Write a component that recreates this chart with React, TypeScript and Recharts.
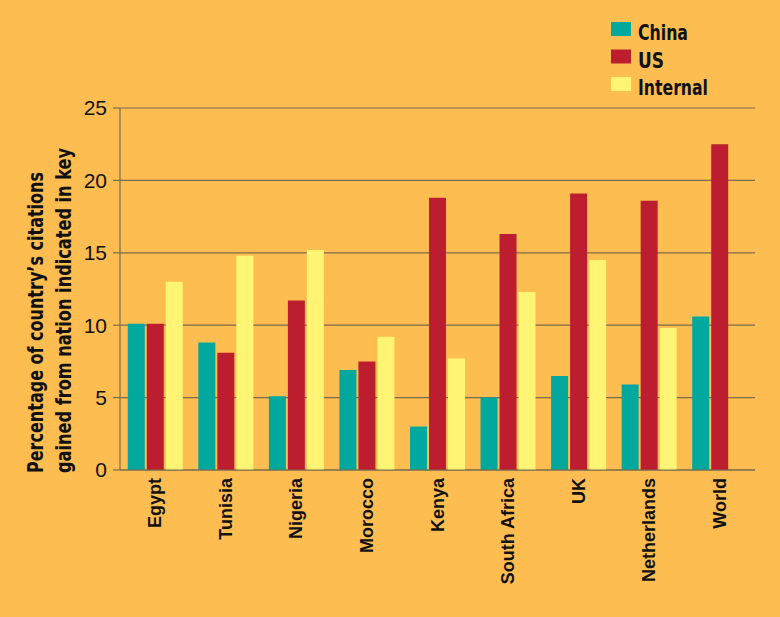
import { Bar, BarChart, CartesianGrid, XAxis, YAxis } from "recharts";

const countries = ["Egypt", "Tunisia", "Nigeria", "Morocco", "Kenya", "South Africa", "UK", "Netherlands", "World"];
const china = [10.1, 8.8, 5.1, 6.9, 3.0, 5.0, 6.5, 5.9, 10.6];
const us = [10.1, 8.1, 11.7, 7.5, 18.8, 16.3, 19.1, 18.6, 22.5];
const internal: (number | null)[] = [13.0, 14.8, 15.2, 9.2, 7.7, 12.3, 14.5, 9.8, null];
const yTicks = [0, 5, 10, 15, 20, 25];

const BG = "#fdbd50";
const COLORS = { china: "#00a89d", us: "#bd1e2f", internal: "#fff474" };
const GRID = "#7d6b4e";
const COND = "'DejaVu Sans Condensed', 'Liberation Sans', sans-serif";

const data = countries.map((name, i) => ({
  name,
  China: china[i],
  US: us[i],
  Internal: internal[i],
}));

const legendItems = [
  { label: "China", color: COLORS.china, w: 50 },
  { label: "US", color: COLORS.us, w: 26 },
  { label: "Internal", color: COLORS.internal, w: 70 },
];

// key drawn on top of the chart, top right
function KeyBox() {
  return (
    <svg width={170} height={100} style={{ position: "absolute", left: 600, top: 10 }}>
      {legendItems.map((it, i) => (
        <g key={it.label}>
          <rect x={11} y={12 + i * 27.5} width={20} height={14} fill={it.color} />
          <text
            x={38}
            y={22.5 + i * 27.5}
            dominantBaseline="central"
            fontFamily={COND}
            fontWeight={700}
            fontSize={22}
            fill="#111"
            textLength={it.w}
            lengthAdjust="spacingAndGlyphs"
          >
            {it.label}
          </text>
        </g>
      ))}
    </svg>
  );
}

function CountryTick({ x, y, payload }: any) {
  return (
    <text
      x={x}
      y={y}
      transform={`rotate(-90, ${x}, ${y})`}
      textAnchor="end"
      dominantBaseline="central"
      fill="#111"
      fontFamily="'Liberation Sans', Arial, sans-serif"
      fontWeight={700}
      fontSize={18}
    >
      {payload.value}
    </text>
  );
}

function AxisTitle() {
  return (
    <g fontFamily={COND} fontWeight={700} fontSize={22} fill="#111">
      <text
        x={35}
        y={473}
        transform="rotate(-90, 35, 473)"
        dominantBaseline="central"
        textLength={301}
        lengthAdjust="spacingAndGlyphs"
      >
        Percentage of country’s citations
      </text>
      <text
        x={63}
        y={473}
        transform="rotate(-90, 63, 473)"
        dominantBaseline="central"
        textLength={325}
        lengthAdjust="spacingAndGlyphs"
      >
        gained from nation indicated in key
      </text>
    </g>
  );
}

export default function App() {
  return (
    <div style={{ position: "absolute", left: 0, top: 0, width: 780, height: 617, background: BG }}>
      <BarChart
        width={780}
        height={617}
        data={data}
        margin={{ top: 108, right: 25, left: 0, bottom: 0 }}
        barCategoryGap="11%"
        barGap={2}
      >
        <CartesianGrid vertical={false} stroke={GRID} strokeWidth={1.2} />
        <XAxis
          dataKey="name"
          height={147}
          interval={0}
          tickLine={false}
          axisLine={{ stroke: GRID, strokeWidth: 1.2 }}
          tick={<CountryTick />}
        />
        <YAxis
          width={120}
          domain={[0, 25]}
          ticks={yTicks}
          tickSize={7}
          tickMargin={6}
          axisLine={{ stroke: GRID, strokeWidth: 1.2 }}
          tickLine={{ stroke: GRID, strokeWidth: 1.2 }}
          tick={{ fill: "#111", fontSize: 21, fontFamily: "'Liberation Sans', Arial, sans-serif" }}
          label={{ content: () => <AxisTitle /> }}
        />
        <Bar dataKey="China" fill={COLORS.china} isAnimationActive={false} />
        <Bar dataKey="US" fill={COLORS.us} isAnimationActive={false} />
        <Bar dataKey="Internal" fill={COLORS.internal} isAnimationActive={false} />
      </BarChart>
      <KeyBox />
    </div>
  );
}
